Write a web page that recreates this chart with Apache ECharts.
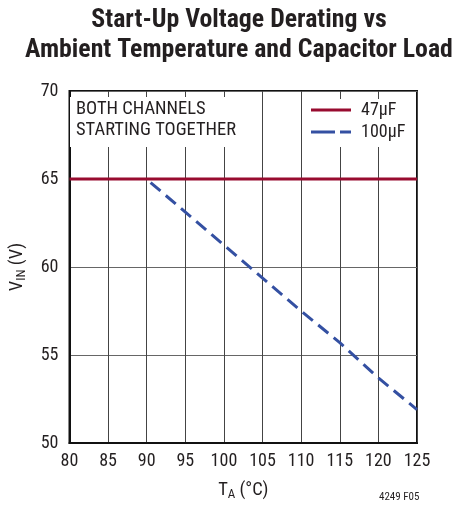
<!DOCTYPE html>
<html><head><meta charset="utf-8">
<script src="https://cdn.jsdelivr.net/npm/echarts@6/dist/echarts.min.js"></script>
<style>html,body{margin:0;padding:0;background:#fff}#c{width:454px;height:508px}</style>
</head><body><div id="c"></div>
<script>
const xTicks = [80, 85, 90, 95, 100, 105, 110, 115, 120, 125];
const yTicks = [50, 55, 60, 65, 70];
const cap47T = [80, 125];
const cap47V = [65, 65];
const cap100T = [90.5, 110, 115, 120, 125];
const cap100V = [64.8, 57.5, 55.7, 53.7, 51.9];
const F = '"Roboto Condensed", "Liberation Sans", sans-serif';
const TXT = '#231f20';
const RED = '#980b2f';
const BLUE = '#3450a2';
const chart = echarts.init(document.getElementById('c'), null, {renderer: 'canvas'});
chart.setOption({
  animation: false,
  backgroundColor: '#fff',
  textStyle: {fontFamily: F, color: TXT},
  graphic: [
    {type: 'text', x: 239, y: 6, z: 10,
     style: {text: 'Start-Up Voltage Derating vs\nAmbient Temperature and Capacitor Load', align: 'center', verticalAlign: 'top',
             fontFamily: F, fontWeight: 'bold', fontSize: 25.8, lineHeight: 30, fill: TXT}}
  ],
  title: [
    {text: 'BOTH CHANNELS\nSTARTING TOGETHER', left: 70, top: 97, padding: [2, 6, 6, 6], backgroundColor: '#fff',
     textStyle: {fontFamily: F, fontWeight: 'normal', fontSize: 18.5, lineHeight: 21, color: TXT}},
    {text: '4249 F05', left: 379, top: 492, padding: 0,
     textStyle: {fontFamily: F, fontWeight: 'normal', fontSize: 11, color: TXT}}
  ],
  legend: {
    left: 305, top: 99, orient: 'vertical', itemWidth: 40, itemHeight: 4, itemGap: 4,
    backgroundColor: '#fff', padding: [2, 10, 6, 6],
    textStyle: {fontFamily: F, fontSize: 18, color: TXT, padding: [0, 0, 0, 5]},
    data: [
      {name: '47µF', icon: 'path://M0,0H40V3H0Z', itemStyle: {color: RED}},
      {name: '100µF', icon: 'path://M0,0H24V3H0Z M29,0H40V3H29Z', itemStyle: {color: BLUE}}
    ]
  },
  grid: {left: 66, right: 37, top: 91, bottom: 65, show: true, borderColor: '#111', borderWidth: 2},
  xAxis: {
    type: 'value', min: 80, max: 125, interval: 5,
    name: '{a|T}{b|A}{a| (°C)}', nameLocation: 'middle', nameGap: 36,
    nameTextStyle: {rich: {a: {fontFamily: F, fontSize: 18.5, color: TXT}, b: {fontFamily: F, fontSize: 13, color: TXT, padding: [9, 0, 0, 0]}}},
    axisLine: {show: true, lineStyle: {color: '#111', width: 2}},
    axisTick: {show: false},
    axisLabel: {fontFamily: F, fontSize: 18, color: TXT, margin: 9, formatter: v => xTicks.includes(v) ? String(v) : ''},
    splitLine: {show: true, lineStyle: {color: '#444', width: 1}}
  },
  yAxis: {
    type: 'value', min: 50, max: 70, interval: 5,
    name: '{a|V}{b|IN}{a| (V)}', nameLocation: 'middle', nameGap: 41, nameRotate: 90,
    nameTextStyle: {rich: {a: {fontFamily: F, fontSize: 18.5, color: TXT}, b: {fontFamily: F, fontSize: 13, color: TXT, padding: [9, 0, 0, 0]}}},
    axisLine: {show: true, lineStyle: {color: '#111', width: 2}},
    axisTick: {show: false},
    axisLabel: {fontFamily: F, fontSize: 18, color: TXT, margin: 11, formatter: v => yTicks.includes(v) ? String(v) : ''},
    splitLine: {show: true, lineStyle: {color: '#666', width: 1}}
  },
  series: [
    {name: '47µF', type: 'line', symbol: 'none', z: 3,
     data: cap47T.map((t, i) => [t, cap47V[i]]),
     lineStyle: {color: RED, width: 3}, itemStyle: {color: RED}},
    {name: '100µF', type: 'line', symbol: 'none', z: 4,
     data: cap100T.map((t, i) => [t, cap100V[i]]),
     lineStyle: {color: BLUE, width: 3, type: [13, 7]}, itemStyle: {color: BLUE}}
  ]
});
</script></body></html>
